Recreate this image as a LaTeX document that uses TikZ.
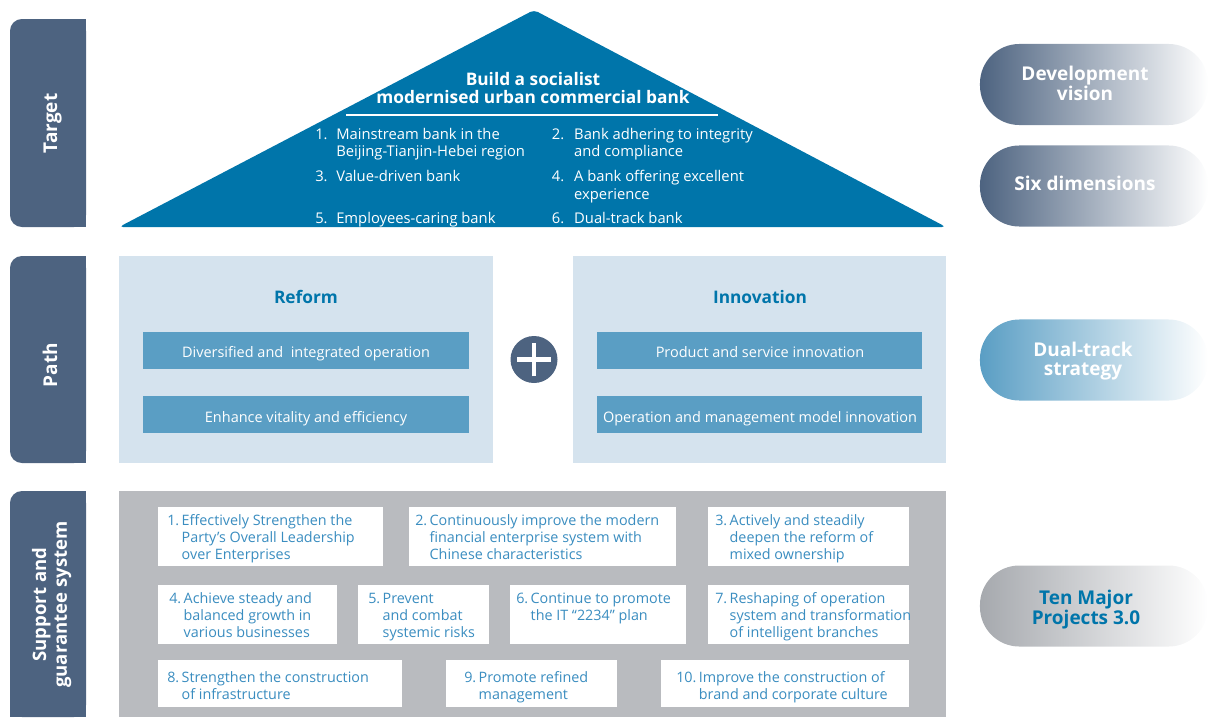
\documentclass[tikz,border=0pt]{standalone}
\usepackage{fontspec}
\setmainfont{Open Sans}
\usepackage{tikz}

\definecolor{slate}{HTML}{4D6380}
\definecolor{roofblue}{HTML}{0075AA}
\definecolor{panelblue}{HTML}{D5E3EE}
\definecolor{barblue}{HTML}{5A9EC4}
\definecolor{panelgrey}{HTML}{B9BBBF}
\definecolor{itemblue}{HTML}{3A8DC0}
\definecolor{pillgrey}{HTML}{A6A9AE}

\begin{document}
\begin{tikzpicture}[x=0.025cm, y=-0.025cm,
	side label/.style={rotate=90, anchor=base, inner sep=0pt, text=white, font=\fontsize{13.5}{14.9}\selectfont\bfseries},
	roof item/.style={anchor=base west, inner sep=0pt, text=white, font=\fontsize{10.5}{12.4}\selectfont},
	track title/.style={anchor=base, inner sep=0pt, text=roofblue, font=\fontsize{12.3}{14}\selectfont\bfseries},
	track item/.style={anchor=base, inner sep=0pt, text=white, font=\fontsize{10.3}{12.4}\selectfont},
	project/.style={anchor=base west, inner sep=0pt, text=itemblue, font=\fontsize{10.2}{12.1}\selectfont},
	pill/.style={rounded corners=28pt, minimum width=5.7cm, minimum height=2.025cm, inner sep=0pt},
	pill label/.style={anchor=base, inner sep=0pt, text=white, font=\fontsize{13.5}{14.2}\selectfont\bfseries}]
	\useasboundingbox (0,0) rectangle (1208,717);

	% Side bars:
	\fill[slate, rounded corners=8.5pt] (10,19) rectangle (86,227);
	\fill[slate] (50,19) rectangle (86,227);
	\fill[slate, rounded corners=8.5pt] (10,256) rectangle (86,463);
	\fill[slate] (50,256) rectangle (86,463);
	\fill[slate, rounded corners=8.5pt] (10,491) rectangle (86,717);
	\fill[slate] (50,491) rectangle (86,717);
	\fill[slate] (10,680) rectangle (86,717);
	\node[side label] (target) at (57,123.5) {Target};
	\node[side label] (path) at (57,365) {Path};
	\node[side label, font=\fontsize{13.2}{14.9}\selectfont\bfseries] (support) at (46,604.5) {\begin{tabular}[t]{@{}c@{}}Support and\\guarantee system\end{tabular}};

	% Roof:
	\coordinate (apex) at (534,10);
	\coordinate (roof west) at (119,227);
	\coordinate (roof east) at (946,227);
	\fill[roofblue, rounded corners=3pt] (apex) -- (roof east) -- (roof west) -- cycle;
	\node[anchor=base, inner sep=0pt, text=white, font=\fontsize{12.3}{12.6}\selectfont\bfseries] (goal) at (533,85) {\begin{tabular}[t]{@{}c@{}}Build a socialist\\modernised urban commercial bank\end{tabular}};
	\coordinate (rule west) at (346,115);
	\coordinate (rule east) at (718,115);
	\draw[white, line width=1pt] (rule west) -- (rule east);
	\node[roof item] (D1) at (315,139) {\begin{tabular}[t]{@{}p{0.525cm}@{}l@{}}1. & Mainstream bank in the\\ & Beijing-Tianjin-Hebei region\end{tabular}};
	\node[roof item] (D2) at (551.7,139) {\begin{tabular}[t]{@{}p{0.555cm}@{}l@{}}2. & Bank adhering to integrity\\ & and compliance\end{tabular}};
	\node[roof item] (D3) at (315,181.7) {\begin{tabular}[t]{@{}p{0.525cm}@{}l@{}}3. & Value-driven bank\end{tabular}};
	\node[roof item] (D4) at (551.7,181.7) {\begin{tabular}[t]{@{}p{0.555cm}@{}l@{}}4. & A bank offering excellent\\ & experience\end{tabular}};
	\node[roof item] (D5) at (315,223) {\begin{tabular}[t]{@{}p{0.525cm}@{}l@{}}5. & Employees-caring bank\end{tabular}};
	\node[roof item] (D6) at (551.7,223) {\begin{tabular}[t]{@{}p{0.555cm}@{}l@{}}6. & Dual-track bank\end{tabular}};

	% Reform and innovation:
	\fill[panelblue] (119,256) rectangle (493,463);
	\fill[panelblue] (573,256) rectangle (946,463);
	\node[track title] (reform) at (306,303) {Reform};
	\node[track title] (innovation) at (760,303) {Innovation};
	\fill[barblue] (143,332) rectangle (469,369);
	\fill[barblue] (143,396) rectangle (469,433);
	\fill[barblue] (597,332) rectangle (922,369);
	\fill[barblue] (597,396) rectangle (922,433);
	\node[track item] (R1) at (306,357) {Diversified and\ \ integrated operation};
	\node[track item] (R2) at (306,422) {Enhance vitality and efficiency};
	\node[track item] (I1) at (760,357) {Product and service innovation};
	\node[track item] (I2) at (760,422) {Operation and management model innovation};
	\node[circle, fill=slate, minimum size=1.175cm, inner sep=0pt] (plus) at (534,359.5) {};
	\draw[white, line width=3.5pt] ([xshift=-0.42cm]plus.center) -- ([xshift=0.42cm]plus.center);
	\draw[white, line width=3.5pt] ([yshift=-0.42cm]plus.center) -- ([yshift=0.42cm]plus.center);

	% Ten major projects:
	\fill[panelgrey] (119,491) rectangle (946,717);
	\fill[white] (158,507) rectangle (383,566);
	\fill[white] (409,507) rectangle (676,566);
	\fill[white] (708,507) rectangle (909,566);
	\fill[white] (158,585) rectangle (337,644);
	\fill[white] (358,585) rectangle (489,644);
	\fill[white] (510,585) rectangle (686,644);
	\fill[white] (708,585) rectangle (909,644);
	\fill[white] (158,660) rectangle (402,707);
	\fill[white] (446,660) rectangle (617,707);
	\fill[white] (661,660) rectangle (909,707);
	\node[project] (P1) at (167,525.7) {\begin{tabular}[t]{@{}l@{\,}l@{}}1. & Effectively Strengthen the\\ & Party’s Overall Leadership\\ & over Enterprises\end{tabular}};
	\node[project] (P2) at (415,525.7) {\begin{tabular}[t]{@{}l@{\,}l@{}}2. & Continuously improve the modern\\ & financial enterprise system with\\ & Chinese characteristics\end{tabular}};
	\node[project] (P3) at (715,525.7) {\begin{tabular}[t]{@{}l@{\,}l@{}}3. & Actively and steadily\\ & deepen the reform of\\ & mixed ownership\end{tabular}};
	\node[project] (P4) at (169,603) {\begin{tabular}[t]{@{}l@{\,}l@{}}4. & Achieve steady and\\ & balanced growth in\\ & various businesses\end{tabular}};
	\node[project] (P5) at (368,603) {\begin{tabular}[t]{@{}l@{\,}l@{}}5. & Prevent\\ & and combat\\ & systemic risks\end{tabular}};
	\node[project] (P6) at (516,603) {\begin{tabular}[t]{@{}l@{\,}l@{}}6. & Continue to promote\\ & the IT “2234” plan\end{tabular}};
	\node[project] (P7) at (715,603) {\begin{tabular}[t]{@{}l@{\,}l@{}}7. & Reshaping of operation\\ & system and transformation\\ & of intelligent branches\end{tabular}};
	\node[project] (P8) at (167,682) {\begin{tabular}[t]{@{}l@{\,}l@{}}8. & Strengthen the construction\\ & of infrastructure\end{tabular}};
	\node[project] (P9) at (464,682) {\begin{tabular}[t]{@{}l@{\,}l@{}}9. & Promote refined\\ & management\end{tabular}};
	\node[project] (P10) at (676,682) {\begin{tabular}[t]{@{}l@{\,}l@{}}10. & Improve the construction of\\ & brand and corporate culture\end{tabular}};

	% Pills on the right:
	\node[pill, left color=slate, middle color=slate!55!white, right color=white] (vision) at (1094,84.5) {};
	\node[pill, left color=slate, middle color=slate!55!white, right color=white] (dimensions) at (1094,186) {};
	\node[pill, left color=barblue, middle color=barblue!60!white, right color=white] (strategy) at (1094,360) {};
	\node[pill, left color=pillgrey, middle color=pillgrey!60!white, right color=white] (projects) at (1094,606) {};
	\node[pill label] (vision text) at (1085,80) {\begin{tabular}[t]{@{}c@{}}Development\\vision\end{tabular}};
	\node[pill label] (dimensions text) at (1085,190.7) {Six dimensions};
	\node[pill label] (strategy text) at (1083,356) {\begin{tabular}[t]{@{}c@{}}Dual-track\\strategy\end{tabular}};
	\node[pill label, text=roofblue] (projects text) at (1086,604) {\begin{tabular}[t]{@{}c@{}}Ten Major\\Projects 3.0\end{tabular}};
\end{tikzpicture}
\end{document}
